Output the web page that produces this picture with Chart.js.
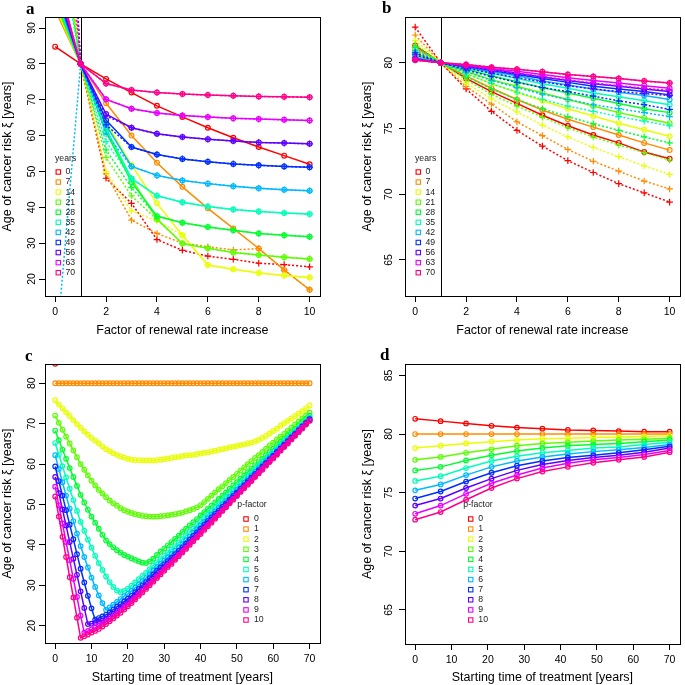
<!DOCTYPE html>
<html>
<head>
<meta charset="utf-8">
<script src="https://cdn.jsdelivr.net/npm/chart.js@4.4.1/dist/chart.umd.min.js"></script>
<style>
  body { margin: 0; background: #fff; width: 685px; height: 685px; position: relative; overflow: hidden; }
  canvas { position: absolute; }
</style>
</head>
<body>
<canvas id="chartA" width="325" height="338" style="left:0px;top:0px"></canvas>
<canvas id="chartB" width="325" height="338" style="left:360px;top:0px"></canvas>
<canvas id="chartC" width="325" height="338" style="left:0px;top:347px"></canvas>
<canvas id="chartD" width="325" height="338" style="left:360px;top:347px"></canvas>
<script>
const palette = ["#FF0000", "#FF8B00", "#E8FF00", "#5DFF00", "#00FF2E", "#00FFB9",
                 "#00B9FF", "#002EFF", "#5D00FF", "#E800FF", "#FF008B"];
const yearLabels = ["0", "7", "14", "21", "28", "35", "42", "49", "56", "63", "70"];
const pLabels = ["0", "1", "2", "3", "4", "5", "6", "7", "8", "9", "10"];

const factorX = [0, 1, 2, 3, 4, 5, 6, 7, 8, 9, 10];
const startYears = [0, 7, 14, 21, 28, 35, 42, 49, 56, 63, 70];
const startFine = [0, 1, 2, 3, 4, 5, 6, 7, 8, 9, 10, 11, 12, 13, 14, 15, 16, 17, 18, 19, 20,
  21, 22, 23, 24, 25, 26, 27, 28, 29, 30, 31, 32, 33, 34, 35, 36, 37, 38, 39, 40,
  41, 42, 43, 44, 45, 46, 47, 48, 49, 50, 51, 52, 53, 54, 55, 56, 57, 58, 59, 60,
  61, 62, 63, 64, 65, 66, 67, 68, 69, 70];

const ticksFactor = [0, 2, 4, 6, 8, 10];
const ticksStart = [0, 10, 20, 30, 40, 50, 60, 70];
const ticksA = [20, 30, 40, 50, 60, 70, 80, 90];
const ticksB = [65, 70, 75, 80];
const ticksC = [20, 30, 40, 50, 60, 70, 80];
const ticksD = [65, 70, 75, 80, 85];

// panel c: age of cancer risk by p-factor (rows) and starting time 0..70 (columns)
const cAge = [
  [84.8],
  [80, 80, 80, 80, 80, 80, 80, 80, 80, 80, 80, 80, 80, 80, 80, 80, 80, 80, 80, 80, 80,
   80, 80, 80, 80, 80, 80, 80, 80, 80, 80, 80, 80, 80, 80, 80, 80, 80, 80, 80, 80,
   80, 80, 80, 80, 80, 80, 80, 80, 80, 80, 80, 80, 80, 80, 80, 80, 80, 80, 80, 80,
   80, 80, 80, 80, 80, 80, 80, 80, 80, 80],
  [75.8, 74.8, 73.8, 72.8, 71.9, 70.9, 69.9, 69.0, 68.1, 67.3, 66.5,
   65.8, 65.1, 64.4, 63.7, 63.2, 62.7, 62.3, 61.9, 61.6, 61.3,
   61.1, 61.0, 61.0, 60.9, 60.9, 60.9, 60.9, 61.0, 61.1, 61.2,
   61.4, 61.5, 61.7, 61.8, 62.0, 62.1, 62.2, 62.3, 62.5, 62.6,
   62.8, 62.9, 63.1, 63.3, 63.5, 63.7, 63.9, 64.1, 64.3, 64.5,
   64.7, 64.9, 65.1, 65.3, 65.6, 66.0, 66.5, 67.0, 67.6, 68.2,
   68.8, 69.5, 70.1, 70.7, 71.3, 71.9, 72.5, 73.1, 73.8, 74.5],
  [72.0, 70.2, 68.5, 66.8, 65.1, 63.4, 61.7, 60.0, 58.6, 57.2, 55.9,
   54.7, 53.6, 52.7, 51.8, 51.0, 50.3, 49.7, 49.1, 48.6, 48.2,
   47.9, 47.6, 47.4, 47.2, 47.1, 47.0, 47.0, 47.0, 47.1, 47.2,
   47.3, 47.5, 47.6, 47.8, 48.0, 48.3, 48.6, 48.9, 49.3, 49.8,
   50.6, 51.4, 52.2, 53.0, 53.8, 54.5, 55.3, 56.1, 56.8, 57.6,
   58.4, 59.2, 60.0, 60.7, 61.5, 62.2, 63.0, 63.8, 64.6, 65.3,
   66.1, 66.8, 67.5, 68.3, 69.0, 69.8, 70.5, 71.3, 72.0, 72.7],
  [68.3, 65.9, 63.6, 61.3, 59.0, 56.8, 54.6, 52.4, 50.5, 48.7, 47.0,
   45.5, 44.0, 42.5, 41.1, 40.2, 39.4, 38.7, 38.1, 37.5, 37.1,
   36.7, 36.3, 35.9, 35.6, 35.5, 35.9, 36.6, 37.5, 38.3, 39.1,
   39.9, 40.7, 41.5, 42.3, 43.2, 44.0, 44.8, 45.6, 46.4, 47.3,
   48.1, 48.9, 49.7, 50.5, 51.4, 52.2, 53.0, 53.9, 54.7, 55.5,
   56.4, 57.2, 58.0, 58.8, 59.7, 60.5, 61.3, 62.2, 63.0, 63.8,
   64.7, 65.5, 66.3, 67.1, 67.9, 68.7, 69.6, 70.4, 71.2, 72.0],
  [65.2, 62.3, 59.5, 56.7, 53.9, 51.1, 48.4, 45.7, 43.5, 41.3, 39.3,
   37.3, 35.5, 33.8, 32.2, 30.8, 29.6, 28.7, 28.3, 28.6, 29.2,
   29.9, 30.7, 31.5, 32.3, 33.1, 34.0, 34.9, 35.7, 36.5, 37.3,
   38.1, 38.9, 39.7, 40.6, 41.4, 42.3, 43.2, 44.0, 44.9, 45.8,
   46.6, 47.5, 48.4, 49.2, 50.1, 50.9, 51.8, 52.6, 53.5, 54.4,
   55.2, 56.1, 57.0, 57.8, 58.7, 59.6, 60.5, 61.3, 62.2, 63.0,
   63.9, 64.7, 65.6, 66.4, 67.3, 68.1, 69.0, 69.9, 70.7, 71.6],
  [62.2, 58.8, 55.5, 52.2, 49.0, 45.9, 42.8, 39.7, 37.0, 34.4, 31.9,
   29.6, 27.5, 25.6, 23.9, 24.5, 25.2, 25.9, 26.6, 27.3, 27.9,
   28.6, 29.4, 30.2, 31.0, 31.8, 32.7, 33.6, 34.5, 35.3, 36.1,
   36.9, 37.7, 38.5, 39.3, 40.2, 41.1, 42.0, 43.0, 43.9, 44.8,
   45.7, 46.6, 47.5, 48.3, 49.2, 50.1, 50.9, 51.8, 52.7, 53.6,
   54.5, 55.4, 56.3, 57.2, 58.1, 59.0, 59.9, 60.8, 61.7, 62.5,
   63.4, 64.3, 65.2, 66.1, 66.9, 67.8, 68.7, 69.5, 70.4, 71.3],
  [59.4, 55.8, 52.2, 48.6, 45.0, 41.4, 37.7, 34.1, 30.7, 27.4, 24.3,
   21.5, 21.9, 22.3, 22.7, 23.3, 24.0, 24.7, 25.3, 26.0, 26.7,
   27.4, 28.3, 29.1, 30.0, 30.8, 31.8, 32.7, 33.6, 34.4, 35.2,
   36.0, 36.8, 37.7, 38.5, 39.4, 40.3, 41.3, 42.2, 43.1, 44.0,
   45.0, 45.9, 46.8, 47.7, 48.5, 49.4, 50.3, 51.2, 52.1, 53.0,
   53.9, 54.8, 55.8, 56.7, 57.6, 58.5, 59.4, 60.3, 61.2, 62.1,
   63.0, 63.9, 64.8, 65.7, 66.6, 67.5, 68.4, 69.3, 70.2, 71.1],
  [56.8, 52.8, 48.8, 44.8, 40.7, 36.6, 32.6, 28.5, 24.4, 20.4, 20.5,
   20.7, 21.0, 21.3, 21.7, 22.3, 23.0, 23.7, 24.4, 25.1, 25.9,
   26.7, 27.5, 28.4, 29.2, 30.0, 30.9, 31.8, 32.7, 33.6, 34.5,
   35.3, 36.2, 37.0, 37.9, 38.8, 39.7, 40.7, 41.6, 42.5, 43.4,
   44.4, 45.3, 46.2, 47.1, 48.0, 48.9, 49.9, 50.8, 51.7, 52.6,
   53.5, 54.4, 55.4, 56.3, 57.2, 58.1, 59.0, 60.0, 60.9, 61.8,
   62.7, 63.7, 64.6, 65.5, 66.4, 67.3, 68.2, 69.1, 70.0, 70.9],
  [54.4, 49.8, 45.3, 40.7, 36.2, 31.6, 27.1, 22.5, 18.3, 18.7, 19.1,
   19.5, 20.0, 20.5, 21.0, 21.6, 22.3, 23.0, 23.8, 24.5, 25.3,
   26.1, 26.9, 27.8, 28.6, 29.5, 30.4, 31.3, 32.2, 33.1, 34.0,
   34.9, 35.7, 36.6, 37.5, 38.4, 39.3, 40.3, 41.2, 42.1, 43.0,
   44.0, 44.9, 45.8, 46.8, 47.7, 48.6, 49.5, 50.5, 51.4, 52.3,
   53.3, 54.2, 55.1, 56.0, 57.0, 57.9, 58.8, 59.8, 60.7, 61.6,
   62.5, 63.5, 64.4, 65.3, 66.2, 67.1, 68.1, 69.0, 69.9, 70.8],
  [52.0, 47.0, 42.0, 37.0, 32.0, 27.0, 22.0, 17.0, 17.4, 17.8, 18.3,
   18.7, 19.2, 19.8, 20.4, 21.1, 21.8, 22.5, 23.2, 24.0, 24.8,
   25.6, 26.5, 27.4, 28.2, 29.1, 30.0, 30.9, 31.8, 32.7, 33.6,
   34.5, 35.3, 36.3, 37.2, 38.1, 39.0, 40.0, 40.9, 41.8, 42.7,
   43.7, 44.6, 45.5, 46.5, 47.4, 48.4, 49.3, 50.3, 51.2, 52.1,
   53.1, 54.0, 54.9, 55.8, 56.8, 57.7, 58.6, 59.6, 60.5, 61.4,
   62.3, 63.3, 64.2, 65.1, 66.1, 67.0, 67.9, 68.8, 69.8, 70.7]
];

// panel a: value at factor 0 for each start year (mostly above the frame)
const aSolidAtZero = [84.8, 95, 96, 97, 98, 99, 100, 101.5, 103, 104.5, 106];
// panel a: dotted series by start year, factor 0..10
const aDotted = [
  [150, 80, 48.1, 41.1, 31.0, 28.0, 26.4, 25.5, 24.4, 24.0, 23.4],
  [140, 80, 49.3, 36.4, 32.7, 30.0, 29.0, 28.1, 28.5, 22.5, 17.0],
  [135, 80, 49.9, 39.0, 36.2, 32.2, 23.9, 22.7, 21.7, 21.0, 20.4],
  [130, 80, 53.9, 43.2, 36.6, 29.9, 28.6, 27.4, 26.7, 26.1, 25.6],
  [125, 80, 56.0, 45.5, 37.5, 35.7, 34.5, 33.6, 32.7, 32.2, 31.8],
  [120, 80, 58.3, 48.0, 43.2, 41.4, 40.2, 39.4, 38.8, 38.4, 38.1],
  [-3, 80, 60.5, 51.4, 48.9, 47.5, 46.6, 45.9, 45.3, 44.9, 44.6],
  [210, 80, 63.0, 56.8, 54.7, 53.5, 52.7, 52.1, 51.7, 51.4, 51.2],
  [200, 80, 65.5, 62.2, 60.5, 59.6, 59.0, 58.5, 58.1, 57.9, 57.7],
  [180, 80, 70.1, 67.5, 66.3, 65.6, 65.2, 64.8, 64.6, 64.4, 64.2],
  [106, 80, 74.5, 72.7, 72.0, 71.6, 71.3, 71.1, 70.9, 70.8, 70.7]
];

// panel d: age of cancer risk by p-factor (rows) and start year 0,7,..,70
const dAge = [
  [81.3, 81.1, 80.9, 80.7, 80.55, 80.45, 80.35, 80.3, 80.25, 80.2, 80.2],
  [80, 80, 80, 80, 80, 80, 80, 80, 80, 80, 80],
  [78.8, 79.0, 79.2, 79.35, 79.5, 79.6, 79.65, 79.7, 79.75, 79.8, 79.85],
  [77.8, 78.05, 78.4, 78.7, 79.0, 79.2, 79.3, 79.4, 79.5, 79.55, 79.65],
  [76.9, 77.2, 77.75, 78.2, 78.55, 78.8, 79.0, 79.1, 79.2, 79.35, 79.5],
  [76.0, 76.4, 77.1, 77.7, 78.1, 78.4, 78.6, 78.8, 78.9, 79.1, 79.3],
  [75.2, 75.7, 76.5, 77.2, 77.7, 78.05, 78.3, 78.5, 78.65, 78.85, 79.1],
  [74.5, 75.1, 75.95, 76.7, 77.3, 77.7, 78.0, 78.2, 78.4, 78.65, 78.95],
  [73.9, 74.5, 75.4, 76.2, 76.9, 77.4, 77.75, 78.0, 78.2, 78.45, 78.8],
  [73.2, 73.9, 74.9, 75.8, 76.5, 77.1, 77.5, 77.8, 78.0, 78.25, 78.6],
  [72.7, 73.35, 74.4, 75.4, 76.2, 76.8, 77.2, 77.55, 77.8, 78.05, 78.45]
];

// panel b: dotted series by start year, factor 0..10
const bDotted = [
  [82.7, 80, 78.0, 76.3, 74.85, 73.65, 72.55, 71.65, 70.8, 70.1, 69.4],
  [82.1, 80, 78.2, 76.85, 75.5, 74.45, 73.4, 72.5, 71.75, 71.0, 70.4],
  [81.7, 80, 78.45, 77.25, 76.25, 75.25, 74.35, 73.55, 72.85, 72.15, 71.5],
  [81.4, 80, 78.7, 77.6, 76.7, 75.85, 75.05, 74.35, 73.75, 73.15, 72.6],
  [81.2, 80, 78.95, 78.0, 77.2, 76.5, 75.9, 75.35, 74.85, 74.35, 73.9],
  [81.0, 80, 79.15, 78.4, 77.75, 77.2, 76.7, 76.3, 75.9, 75.55, 75.2],
  [80.9, 80, 79.3, 78.65, 78.1, 77.6, 77.2, 76.8, 76.5, 76.2, 75.9],
  [80.75, 80, 79.45, 78.95, 78.5, 78.1, 77.8, 77.45, 77.1, 76.8, 76.45],
  [80.6, 80, 79.6, 79.2, 78.85, 78.55, 78.25, 78.0, 77.8, 77.65, 77.5],
  [80.35, 80, 79.75, 79.45, 79.2, 78.95, 78.7, 78.45, 78.25, 78.05, 77.9],
  [80.2, 80, 79.85, 79.65, 79.5, 79.3, 79.1, 78.95, 78.8, 78.6, 78.45]
];

// solid curves of a and b are the same numbers as c and d, seen the other way round
const aSolid = startYears.map((t, i) => [aSolidAtZero[i]].concat(cAge.slice(1).map(row => row[t])));
const bSolid = startYears.map((t, i) => dAge.map(row => row[i]));

const FONT = '"Liberation Sans", Arial, sans-serif';
Chart.defaults.font.family = FONT;
Chart.defaults.color = "#000";

function series(xs, ys, color, dotted, k, r) {
  return {
    data: xs.map((x, i) => ({ x: x, y: ys[i] })).filter(p => p.y !== undefined && p.y !== null),
    borderColor: color,
    backgroundColor: "transparent",
    pointBorderColor: color,
    pointBackgroundColor: "transparent",
    borderWidth: 1.5,
    borderDash: dotted ? [2, 2] : [],
    pointStyle: dotted ? "cross" : "circle",
    pointRadius: dotted ? 3.3 : r,
    pointBorderWidth: 1.2,
    tension: 0,
    order: 1000 - k
  };
}

function decor(cfg) {
  return {
    id: "decor",
    beforeDatasetsDraw(chart) {
      if (cfg.vline == null) return;
      const { ctx, chartArea: a, scales: { x } } = chart;
      const px = Math.round(x.getPixelForValue(cfg.vline)) + 0.5;
      ctx.save();
      ctx.strokeStyle = "#000";
      ctx.lineWidth = 1;
      ctx.beginPath();
      ctx.moveTo(px, a.top);
      ctx.lineTo(px, a.bottom);
      ctx.stroke();
      ctx.restore();
    },
    afterDraw(chart) {
      const { ctx, chartArea: a, scales: { y } } = chart;
      ctx.save();
      // frame
      ctx.strokeStyle = "#000";
      ctx.lineWidth = 1;
      ctx.strokeRect(Math.round(a.left) + 0.5, Math.round(a.top) + 0.5,
        Math.round(a.right - a.left), Math.round(a.bottom - a.top));
      // y tick labels, parallel to the axis
      ctx.fillStyle = "#000";
      ctx.font = "10.5px " + FONT;
      ctx.textAlign = "center";
      ctx.textBaseline = "middle";
      cfg.yTicks.forEach(v => {
        ctx.save();
        ctx.translate(a.left - cfg.yGap, y.getPixelForValue(v));
        ctx.rotate(-Math.PI / 2);
        ctx.fillText(String(v), 0, 0);
        ctx.restore();
      });
      // panel letter
      ctx.font = 'bold 17px "Liberation Serif", "Times New Roman", serif';
      ctx.textAlign = "left";
      ctx.textBaseline = "alphabetic";
      ctx.fillText(cfg.letter, cfg.letterX, cfg.letterY);
      // legend
      const lg = cfg.legend;
      ctx.font = "8.7px " + FONT;
      ctx.textBaseline = "middle";
      ctx.fillStyle = "#222";
      ctx.fillText(lg.title, lg.titleX, lg.titleY);
      lg.labels.forEach((lab, i) => {
        const yy = lg.y0 + i * lg.dy;
        ctx.strokeStyle = palette[i];
        ctx.lineWidth = 1.1;
        ctx.strokeRect(lg.sx - 2.2, yy - 2.2, 4.4, 4.4);
        ctx.fillStyle = "#222";
        ctx.fillText(lab, lg.tx, yy);
      });
      ctx.restore();
    }
  };
}

function axis(range, ticks, title, isX, size) {
  const o = {
    type: "linear",
    min: range[0],
    max: range[1],
    afterBuildTicks: s => { s.ticks = ticks.map(v => ({ value: v })); },
    grid: { drawOnChartArea: false, drawTicks: true, tickLength: 6, color: "#000", lineWidth: 1 },
    border: { display: false },
    title: { display: true, text: title, color: "#000", font: { size: 12.5 }, padding: 0 }
  };
  if (isX) {
    o.afterFit = s => { s.height = size; };
    o.ticks = { color: "#000", font: { size: 10.5 }, padding: 4, maxRotation: 0, autoSkip: false };
  } else {
    o.afterFit = s => { s.width = size; };
    o.ticks = { display: false };
  }
  return o;
}

function makeChart(id, datasets, p) {
  return new Chart(document.getElementById(id), {
    type: "line",
    data: { datasets: datasets },
    options: {
      responsive: false,
      animation: false,
      devicePixelRatio: 1,
      events: [],
      layout: { padding: { left: 0, top: p.top, right: p.right, bottom: 0 } },
      plugins: { legend: { display: false }, tooltip: { enabled: false } },
      scales: {
        x: axis(p.xRange, p.xTicks, p.xTitle, true, 338 - p.bottom),
        y: axis(p.yRange, p.yTicks, "Age of cancer risk \u03BE [years]", false, 45)
      }
    },
    plugins: [decor(p)]
  });
}

const setsA = [];
const setsB = [];
yearLabels.forEach((lab, i) => {
  setsA.push(series(factorX, aSolid[i], palette[i], false, setsA.length, 2.4));
  setsA.push(series(factorX, aDotted[i], palette[i], true, setsA.length, 2.4));
  setsB.push(series(factorX, bSolid[i], palette[i], false, setsB.length, 2.4));
  setsB.push(series(factorX, bDotted[i], palette[i], true, setsB.length, 2.4));
});
const setsC = pLabels.map((lab, i) => series(startFine, cAge[i], palette[i], false, i, 2.3));
const setsD = pLabels.map((lab, i) => series(startYears, dAge[i], palette[i], false, i, 2.3));

const legendYears = { title: "years", labels: yearLabels, titleX: 55, titleY: 158.7, sx: 58.3, tx: 65.5, y0: 172, dy: 10.07 };

makeChart("chartA", setsA, {
  top: 17, right: 1, bottom: 296,
  xRange: [-0.4, 10.4], yRange: [15.26, 93.07],
  xTicks: ticksFactor, yTicks: ticksA, xTitle: "Factor of renewal rate increase",
  yGap: 12.5, vline: 1, letter: "a", letterX: 26, letterY: 14, legend: legendYears
});
makeChart("chartB", setsB, {
  top: 17, right: 2, bottom: 296,
  xRange: [-0.4, 10.4], yRange: [62.26, 83.47],
  xTicks: ticksFactor, yTicks: ticksB, xTitle: "Factor of renewal rate increase",
  yGap: 16, vline: 1, letter: "b", letterX: 22, letterY: 13, legend: legendYears
});
makeChart("chartC", setsC, {
  top: 17, right: 1, bottom: 296,
  xRange: [-2.8, 72.8], yRange: [15.72, 84.77],
  xTicks: ticksStart, yTicks: ticksC, xTitle: "Starting time of treatment [years]",
  yGap: 13, vline: null, letter: "c", letterX: 25, letterY: 14,
  legend: { title: "p-factor", labels: pLabels, titleX: 237.3, titleY: 157.3, sx: 246, tx: 254, y0: 172, dy: 10.1 }
});
makeChart("chartD", setsD, {
  top: 17, right: 2, bottom: 297,
  xRange: [-2.8, 72.8], yRange: [62.1, 85.97],
  xTicks: ticksStart, yTicks: ticksD, xTitle: "Starting time of treatment [years]",
  yGap: 16, vline: null, letter: "d", letterX: 20, letterY: 13,
  legend: { title: "p-factor", labels: pLabels, titleX: 103.3, titleY: 158, sx: 110.7, tx: 118.3, y0: 172, dy: 10.1 }
});
</script>
</body>
</html>
